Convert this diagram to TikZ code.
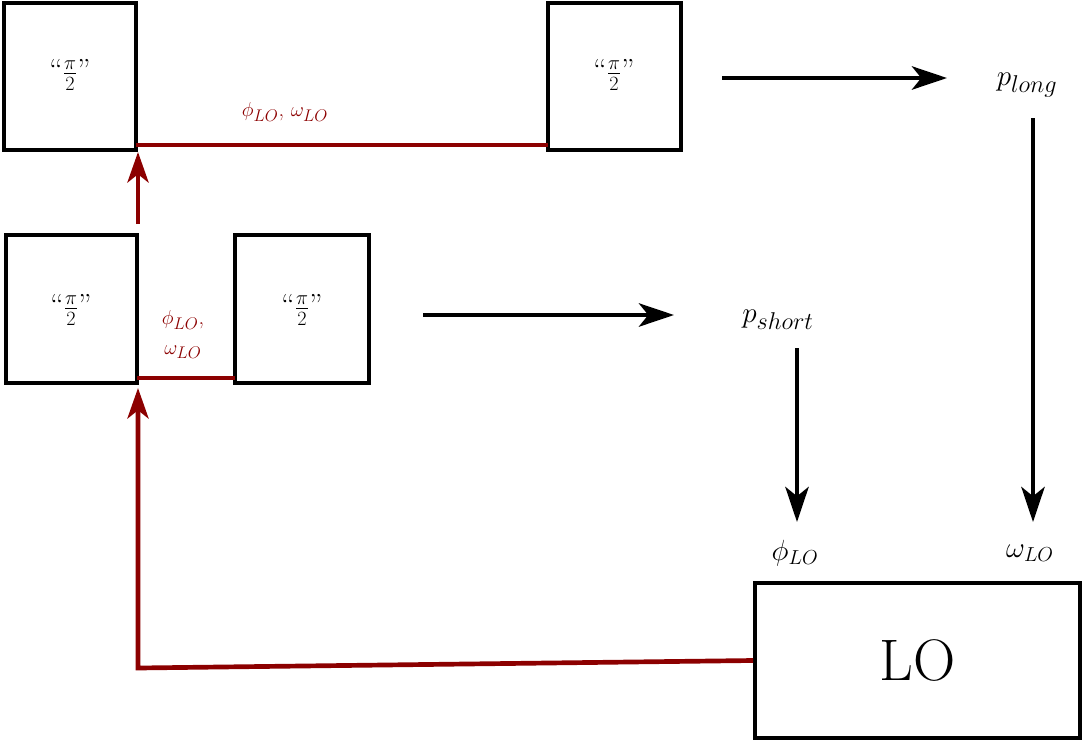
\documentclass[tikz,border=0pt]{standalone}
\usetikzlibrary{arrows.meta}
\begin{document}
\begin{tikzpicture}[x=0.03cm,y=-0.03cm,
  box/.style={draw=black,line width=3.2pt},
  blk/.style={line width=3.2pt,-{Stealth[length=30pt,width=20pt,inset=8pt]}},
  red/.style={draw=red!55!black,line width=4pt},
  rarr/.style={red,-{Stealth[length=26pt,width=18pt,inset=7pt]}},
  big/.style={font=\fontsize{26}{30}\selectfont},
  rlab/.style={text=red!55!black,font=\fontsize{19}{22}\selectfont,inner sep=0pt}]
\useasboundingbox (0,0) rectangle (1084,744);
% top row boxes
\draw[box] (4,3) rectangle (136,150);
\draw[box] (548,3) rectangle (681,150);
\node[big] (t1) at (70,75) {``$\frac{\pi}{2}$''};
\node[big] (t2) at (614,75) {``$\frac{\pi}{2}$''};
\coordinate (ta) at (136,145); \coordinate (tb) at (548,145);
\draw[red] (ta) -- (tb);
\node[rlab] (tl) at (285,112) {$\phi_{LO}$, $\omega_{LO}$};
% middle boxes
\draw[box] (6,235) rectangle (137,383);
\draw[box] (235,235) rectangle (369,383);
\node[big] (m1) at (71,310) {``$\frac{\pi}{2}$''};
\node[big] (m2) at (302,310) {``$\frac{\pi}{2}$''};
\coordinate (ma) at (137,378); \coordinate (mb) at (235,378);
\draw[red] (ma) -- (mb);
\node[rlab] (ml1) at (183,320) {$\phi_{LO}$,};
\node[rlab] (ml2) at (183,352) {$\omega_{LO}$};
% up arrow
\coordinate (u1) at (138,224); \coordinate (u2) at (138,152);
\draw[rarr] (u1) -- (u2);
% right side
\node[big,font=\fontsize{28}{32}\selectfont] (pl) at (1027,85) {$p_{long}$};
\node[big,font=\fontsize{28}{32}\selectfont] (ps) at (778,320) {$p_{short}$};
\coordinate (a1) at (722,78); \coordinate (a2) at (947,78);
\draw[blk] (a1) -- (a2);
\coordinate (b1) at (423,315); \coordinate (b2) at (674,315);
\draw[blk] (b1) -- (b2);
\coordinate (c1) at (797,348); \coordinate (c2) at (797,522);
\draw[blk] (c1) -- (c2);
\coordinate (d1) at (1033,118); \coordinate (d2) at (1033,522);
\draw[blk] (d1) -- (d2);
\node[big] (phi) at (795,553) {$\phi_{LO}$};
\node[big] (om) at (1030,553) {$\omega_{LO}$};
\node[draw,line width=3.2pt,minimum width=9.75cm,minimum height=4.65cm,font=\fontsize{50}{56}\selectfont] (lo) at (917.5,660.5) {LO};
\coordinate (r1) at (138,668); \coordinate (r2) at (138,388);
\draw[rarr] (lo.west) -- (r1) -- (r2);
\end{tikzpicture}
\end{document}
